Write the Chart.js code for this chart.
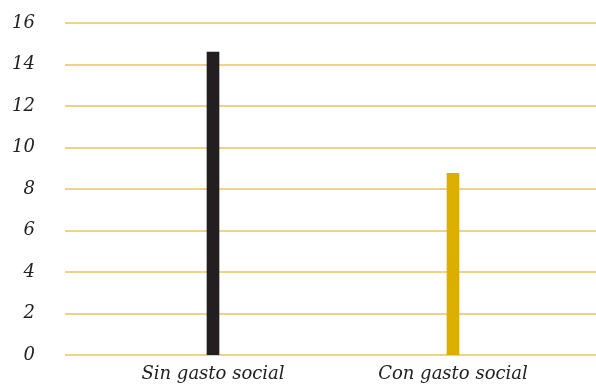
<!DOCTYPE html>
<html>
<head>
<meta charset="utf-8">
<script src="https://cdn.jsdelivr.net/npm/chart.js@4/dist/chart.umd.min.js"></script>
<style>
  html, body { margin: 0; padding: 0; background: #fff; }
  #wrap { width: 596px; height: 386px; }
</style>
</head>
<body>
<div id="wrap"><canvas id="chart"></canvas></div>
<script>
// Chart data
const categories = ["Sin gasto social", "Con gasto social"];
const values = [14.6, 8.75];
const barColors = ["#231f20", "#dcae00"];
const yTicks = [0, 2, 4, 6, 8, 10, 12, 14, 16];

const gridColor = "#eed386";
const labelFont = { family: "DejaVu Serif", style: "italic", size: 18 };

// Draw the horizontal rules across the full width, under the bars
const wideGrid = {
    id: "wideGrid",
    beforeDatasetsDraw(chart) {
        const c = chart.ctx;
        const y = chart.scales.y;
        c.save();
        c.strokeStyle = gridColor;
        c.lineWidth = 2;
        yTicks.forEach(t => {
            const py = Math.round(y.getPixelForValue(t));
            c.beginPath();
            c.moveTo(65, py);
            c.lineTo(chart.width, py);
            c.stroke();
        });
        c.restore();
    }
};

const ctx = document.getElementById("chart").getContext("2d");

new Chart(ctx, {
    type: "bar",
    data: {
        labels: categories,
        datasets: [{
            data: values,
            backgroundColor: barColors,
            barThickness: 12,
        }]
    },
    options: {
        responsive: true,
        maintainAspectRatio: false,
        animation: false,
        layout: { padding: { top: 23, right: 23, left: 0, bottom: 0 } },
        plugins: {
            legend: { display: false },
            tooltip: { enabled: false }
        },
        scales: {
            x: {
                grid: { display: false },
                border: { display: false },
                afterFit: axis => { axis.height = 31; },
                ticks: {
                    color: "#222",
                    padding: 1,
                    maxRotation: 0,
                    font: labelFont
                }
            },
            y: {
                min: 0,
                max: 16,
                afterBuildTicks: axis => { axis.ticks = yTicks.map(v => ({ value: v })); },
                afterFit: axis => { axis.width = 93; axis.paddingTop = 0; axis.paddingBottom = 0; },
                grid: { display: false },
                border: { display: false },
                ticks: {
                    color: "#222",
                    padding: 50,
                    font: labelFont
                }
            }
        }
    },
    plugins: [wideGrid]
});
</script>
</body>
</html>
